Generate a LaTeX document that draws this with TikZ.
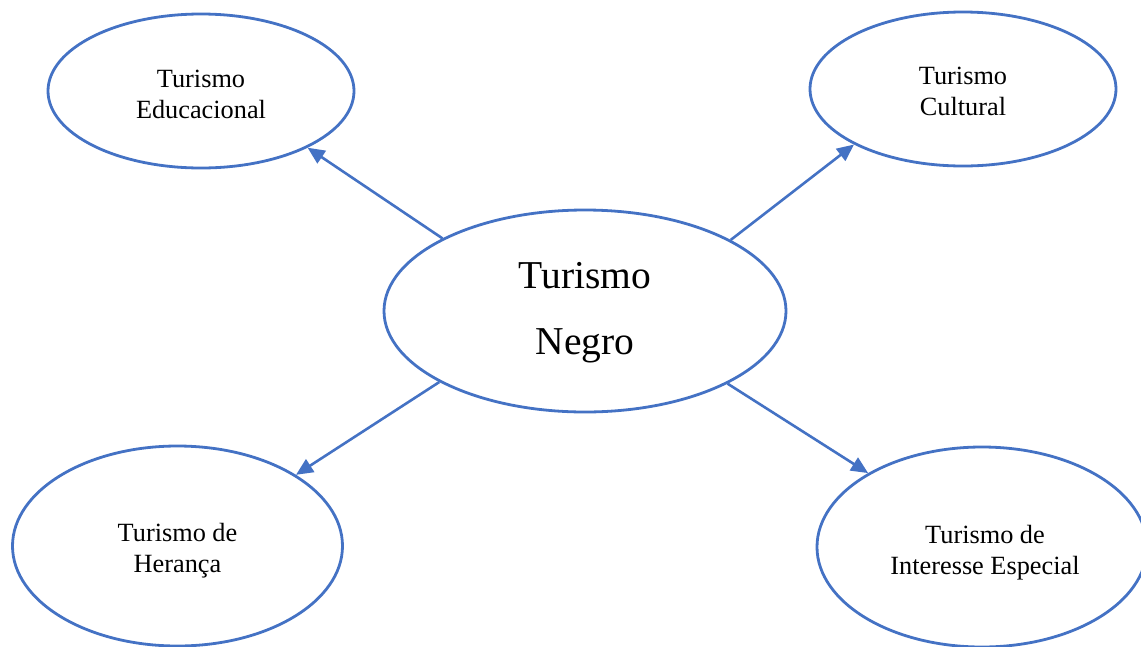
\documentclass[tikz,border=0pt]{standalone}
\usepackage{fontspec}
\setmainfont{Liberation Serif}
\usetikzlibrary{shapes.geometric,arrows.meta}
\definecolor{officeblue}{HTML}{4472C4}
\begin{document}
\begin{tikzpicture}[x=1pt,y=-1pt,
  oval/.style={ellipse, draw=officeblue, line width=2.8pt, inner sep=0pt},
  small/.style={oval, minimum width=306pt, minimum height=154pt},
  big/.style={oval, minimum width=330pt, minimum height=200pt},
  lbl/.style={align=center, inner sep=0pt, font=\fontsize{26.3}{31}\selectfont},
  link/.style={draw=officeblue, line width=2.6pt, -{Triangle[length=17pt,width=15pt]}}]
  \useasboundingbox (0,0) rectangle (1141,646);
  % central idea
  \node[oval, minimum width=402pt, minimum height=202pt,
    label={[name=cn-text, align=center, inner sep=0pt, yshift=-1.8pt,
            font=\fontsize{39.5}{66}\selectfont]center:{Turismo\\Negro}}] (cn) at (585,311) {};
  % four branches
  \node[small, label={[name=tl-text, lbl, yshift=-3.1pt]center:{Turismo\\Educacional}}] (tl) at (201,91) {};
  \node[small, label={[name=tr-text, lbl, yshift=-2.1pt]center:{Turismo\\Cultural}}] (tr) at (963,89) {};
  \node[big, label={[name=bl-text, lbl, yshift=-5.1pt]center:{Turismo de\\Herança}}] (bl) at (177.5,546) {};
  \node[big, label={[name=br-text, lbl, yshift=-6.1pt, xshift=3pt]center:{Turismo de\\Interesse Especial}}] (br) at (982,547) {};
  % connectors
  \draw[link] (cn.153.8) -- (tl.332.8);
  \draw[link] (cn.26.2) -- (tr.207.4);
  \draw[link] (cn.206.9) -- (bl.31.1);
  \draw[link] (cn.333.1) -- (br.147.7);
\end{tikzpicture}
\end{document}
